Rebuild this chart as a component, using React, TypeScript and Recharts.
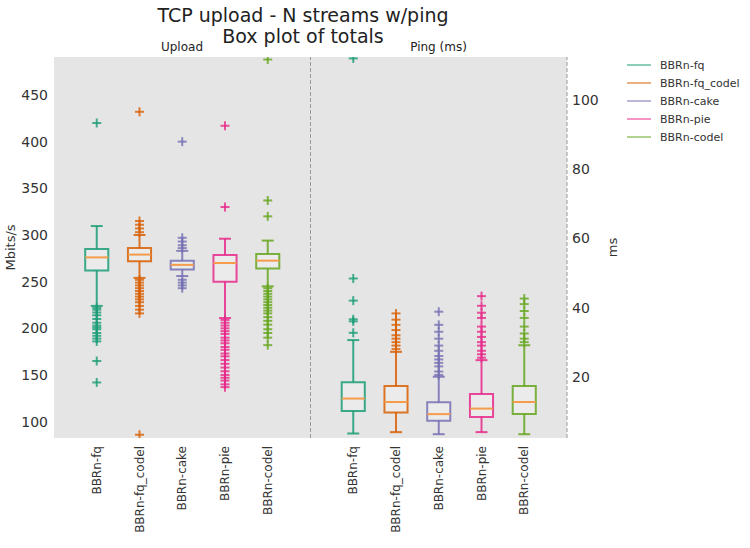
import React from 'react';
import {
  ComposedChart,
  XAxis,
  YAxis,
  Scatter,
  ReferenceArea,
  ReferenceLine,
  CartesianGrid,
  Legend,
} from 'recharts';

// ---------- data ----------
const series = ['BBRn-fq', 'BBRn-fq_codel', 'BBRn-cake', 'BBRn-pie', 'BBRn-codel'];
const colors = ['#1b9e77', '#d95f02', '#7570b3', '#e7298a', '#66a61e'];

// Upload (Mbits/s)
const uploadLow = [224, 254, 256, 211, 245];
const uploadQ1 = [262, 272, 263, 250, 264];
const uploadMedian = [276, 279, 268, 270, 272.5];
const uploadQ3 = [285, 286, 272.5, 278.6, 279.6];
const uploadHigh = [309.6, 300, 283, 296, 294];
const uploadOutliers = [
  [420, 222, 220, 217, 214, 210, 206, 203, 201, 199, 195, 192, 189, 186, 165, 142],
  [432, 315, 311, 307, 303, 252, 249, 246, 243, 240, 237, 234, 231, 228, 224, 220, 216, 86],
  [400, 297, 293, 289, 286, 252, 249, 246, 243],
  [417, 330, 209, 206, 203, 200, 197, 194, 190, 187, 184, 180, 177, 173, 170, 166, 162, 158, 154, 150, 147, 144, 140, 137],
  [488, 337, 320, 243, 240, 237, 234, 231, 228, 225, 222, 219, 216, 212, 208, 204, 199, 195, 190, 182],
];

// Ping (ms)
const pingLow = [3.6, 4.0, 3.4, 4.0, 3.4];
const pingQ1 = [10.1, 9.7, 7.3, 8.4, 9.2];
const pingMedian = [13.7, 12.7, 9.2, 10.8, 12.7];
const pingQ3 = [18.4, 17.3, 12.6, 15.0, 17.3];
const pingHigh = [30.6, 27.2, 20.0, 24.8, 29.1];
const pingOutliers = [
  [112, 48.4, 42, 36.6, 36, 32.7],
  [38.3, 36.5, 35, 33.5, 32, 31, 30, 29, 28],
  [38.8, 35, 33, 31, 29, 27.5, 26, 25, 24, 23, 21.5, 20.5],
  [43.3, 40.5, 38.5, 37, 34.5, 33, 31.5, 30, 29, 27.5, 26.5, 25.5],
  [42.6, 41, 39, 37, 34.5, 32.5, 31, 30],
];

const uploadTicks = [100, 150, 200, 250, 300, 350, 400, 450];
const pingTicks = [20, 40, 60, 80, 100];
const uploadDomain = [82.5, 490.7];
const pingDomain = [2.3, 112.4];

// x positions: upload boxes at 1..5, ping boxes at 7..11
const uploadPos = series.map((_, i) => i + 1);
const pingPos = series.map((_, i) => i + 7);
const xTicks = [...uploadPos, ...pingPos];
const xLabels = [...series, ...series];

const MEDIAN_COLOR = '#f59b4c';
const FONT = '"DejaVu Sans", Verdana, sans-serif';
const BOX_HALF = 0.27;
const CAP_HALF = 0.14;

// ---------- components ----------
const makeCross = (color: string) => (props: any) => {
  const { cx, cy } = props;
  if (cx == null || cy == null) return <g />;
  return (
    <g stroke={color} strokeWidth={2} strokeOpacity={0.8}>
      <line x1={cx - 4.5} y1={cy} x2={cx + 4.5} y2={cy} />
      <line x1={cx} y1={cy - 4.5} x2={cx} y2={cy + 4.5} />
    </g>
  );
};

const XTick = (props: any) => {
  const { x, y, payload } = props;
  const idx = xTicks.indexOf(payload.value);
  const label = idx >= 0 ? xLabels[idx] : '';
  return (
    <text
      x={x}
      y={y}
      transform={`rotate(-90 ${x} ${y})`}
      textAnchor="end"
      dy="0.35em"
      fontSize={12}
      fill="#333"
      fontFamily={FONT}
    >
      {label}
    </text>
  );
};

const YLabel = (props: any) => {
  const { viewBox, text, side } = props;
  if (!viewBox) return null;
  const cx = side === 'left' ? viewBox.x + 10 : viewBox.x + 45;
  const cy = viewBox.y + viewBox.height / 2;
  return (
    <text
      x={cx}
      y={cy}
      transform={`rotate(-90 ${cx} ${cy})`}
      textAnchor="middle"
      dy="0.35em"
      fontSize={13}
      fill="#333"
      fontFamily={FONT}
    >
      {text}
    </text>
  );
};

const LegendBox = () => (
  <div style={{ fontFamily: FONT, fontSize: 11, color: '#333' }}>
    {series.map((s, i) => (
      <div key={s} style={{ display: 'flex', alignItems: 'center', height: 18 }}>
        <svg width={33} height={18}>
          <line x1={7} y1={9} x2={31} y2={9} stroke={colors[i]} strokeOpacity={0.5} strokeWidth={2} />
        </svg>
        <span style={{ marginLeft: 7 }}>{s}</span>
      </div>
    ))}
  </div>
);

function boxElements(
  pos: number[],
  low: number[],
  q1: number[],
  med: number[],
  q3: number[],
  high: number[],
  axisId: string,
  prefix: string
) {
  const els: any[] = [];
  pos.forEach((p, i) => {
    const c = colors[i];
    els.push(
      <ReferenceLine
        key={`${prefix}-wl-${i}`}
        yAxisId={axisId}
        segment={[{ x: p, y: low[i] }, { x: p, y: q1[i] }]}
        stroke={c}
        strokeOpacity={0.85}
        strokeWidth={2}
        ifOverflow="visible"
      />,
      <ReferenceLine
        key={`${prefix}-wh-${i}`}
        yAxisId={axisId}
        segment={[{ x: p, y: q3[i] }, { x: p, y: high[i] }]}
        stroke={c}
        strokeOpacity={0.85}
        strokeWidth={2}
        ifOverflow="visible"
      />,
      <ReferenceLine
        key={`${prefix}-cl-${i}`}
        yAxisId={axisId}
        segment={[{ x: p - CAP_HALF, y: low[i] }, { x: p + CAP_HALF, y: low[i] }]}
        stroke={c}
        strokeOpacity={0.85}
        strokeWidth={2}
        ifOverflow="visible"
      />,
      <ReferenceLine
        key={`${prefix}-ch-${i}`}
        yAxisId={axisId}
        segment={[{ x: p - CAP_HALF, y: high[i] }, { x: p + CAP_HALF, y: high[i] }]}
        stroke={c}
        strokeOpacity={0.85}
        strokeWidth={2}
        ifOverflow="visible"
      />,
      <ReferenceArea
        key={`${prefix}-box-${i}`}
        yAxisId={axisId}
        x1={p - BOX_HALF}
        x2={p + BOX_HALF}
        y1={q1[i]}
        y2={q3[i]}
        stroke={c}
        strokeOpacity={0.85}
        strokeWidth={2}
        fill="#ffffff"
        fillOpacity={0.25}
        ifOverflow="visible"
      />,
      <ReferenceLine
        key={`${prefix}-med-${i}`}
        yAxisId={axisId}
        segment={[{ x: p - BOX_HALF, y: med[i] }, { x: p + BOX_HALF, y: med[i] }]}
        stroke={MEDIAN_COLOR}
        strokeWidth={2}
        ifOverflow="visible"
      />
    );
  });
  return els;
}

export default function App() {
  const uploadScatter = uploadOutliers.map((vals, i) => vals.map((v) => ({ x: uploadPos[i], y: v })));
  const pingScatter = pingOutliers.map((vals, i) => vals.map((v) => ({ x: pingPos[i], y: v })));

  return (
    <div style={{ position: 'absolute', left: 0, top: 0, width: 750, height: 548, fontFamily: FONT, background: '#fff' }}>
      <div
        style={{
          position: 'absolute',
          left: 0,
          width: 606,
          top: 5,
          textAlign: 'center',
          fontSize: 19,
          lineHeight: '21px',
          color: '#222',
          zIndex: 2,
        }}
      >
        TCP upload - N streams w/ping
        <br />
        Box plot of totals
      </div>
      <div style={{ position: 'absolute', left: 54, width: 256, top: 40, textAlign: 'center', fontSize: 12, color: '#222', zIndex: 2 }}>
        Upload
      </div>
      <div style={{ position: 'absolute', left: 310, width: 257, top: 40, textAlign: 'center', fontSize: 12, color: '#222', zIndex: 2 }}>
        Ping (ms)
      </div>
      <ComposedChart width={750} height={548} margin={{ top: 57, right: 123, bottom: 0, left: 0 }}>
        <CartesianGrid yAxisId="left" horizontal={false} vertical={false} fill="#e5e5e5" />
        <XAxis
          dataKey="x"
          type="number"
          domain={[0, 12]}
          ticks={xTicks}
          interval={0}
          allowDataOverflow
          axisLine={false}
          tickLine={false}
          tickSize={4}
          tickMargin={4}
          height={110}
          tick={<XTick />}
        />
        <YAxis
          yAxisId="left"
          orientation="left"
          dataKey="y"
          type="number"
          domain={uploadDomain}
          ticks={uploadTicks}
          allowDataOverflow
          width={54}
          axisLine={false}
          tickLine={false}
          tickSize={4}
          tickMargin={2}
          tick={{ fontSize: 14, fill: '#333', fontFamily: FONT }}
          label={<YLabel text="Mbits/s" side="left" />}
        />
        <YAxis
          yAxisId="right"
          orientation="right"
          dataKey="y"
          type="number"
          domain={pingDomain}
          ticks={pingTicks}
          allowDataOverflow
          width={60}
          axisLine={false}
          tickLine={false}
          tickSize={3}
          tickMargin={2}
          tick={{ fontSize: 14, fill: '#333', fontFamily: FONT, textAnchor: 'start' }}
          label={<YLabel text="ms" side="right" />}
        />
        <ReferenceLine yAxisId="left" x={6} stroke="#9a9a9a" strokeDasharray="4 2" strokeWidth={1} ifOverflow="visible" />
        <ReferenceLine yAxisId="left" x={12} stroke="#9a9a9a" strokeDasharray="4 2" strokeWidth={1} ifOverflow="visible" />
        {boxElements(uploadPos, uploadLow, uploadQ1, uploadMedian, uploadQ3, uploadHigh, 'left', 'u')}
        {boxElements(pingPos, pingLow, pingQ1, pingMedian, pingQ3, pingHigh, 'right', 'p')}
        {uploadScatter.map((d, i) => (
          <Scatter
            key={`us-${i}`}
            name={series[i]}
            yAxisId="left"
            data={d}
            shape={makeCross(colors[i])}
            isAnimationActive={false}
            legendType="line"
          />
        ))}
        {pingScatter.map((d, i) => (
          <Scatter
            key={`ps-${i}`}
            name={series[i]}
            yAxisId="right"
            data={d}
            shape={makeCross(colors[i])}
            isAnimationActive={false}
            legendType="none"
          />
        ))}
        <Legend
          layout="horizontal"
          verticalAlign="middle"
          align="center"
          wrapperStyle={{ left: 620, top: 56, width: 130 }}
          content={() => <LegendBox />}
        />
      </ComposedChart>
    </div>
  );
}
